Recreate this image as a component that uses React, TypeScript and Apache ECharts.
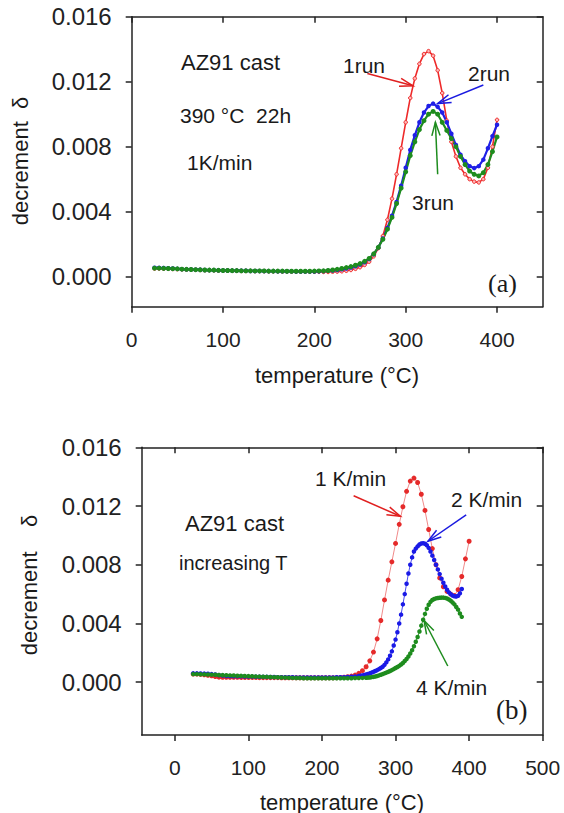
import React, { useEffect, useRef } from "react";
import * as echarts from "echarts";

// ---------- Panel (a): AZ91 cast, 390 °C 22h, 1 K/min, three runs ----------
const tempA = [
  25, 30, 35, 40, 45, 50, 55, 60, 65, 70, 75, 80, 85, 90, 95, 100, 105, 110, 115, 120,
  125, 130, 135, 140, 145, 150, 155, 160, 165, 170, 175, 180, 185, 190, 195, 200, 205, 210, 215, 220,
  225, 230, 235, 240, 245, 250, 255, 260, 265, 270, 275, 280, 285, 290, 295, 300, 305, 310, 315, 320,
  325, 330, 335, 340, 345, 350, 355, 360, 365, 370, 375, 380, 385, 390, 395, 400,
];
const run1 = [
  0.0005, 0.0005, 0.00049, 0.00048, 0.00047, 0.00046, 0.00045, 0.00044, 0.00043, 0.00042, 0.00041, 0.0004, 0.0004, 0.00039, 0.00038, 0.00037, 0.00037, 0.00036, 0.00036, 0.00035,
  0.00035, 0.00035, 0.00034, 0.00034, 0.00034, 0.00033, 0.00033, 0.00033, 0.00032, 0.00032, 0.00032, 0.00031, 0.00031, 0.00031, 0.0003, 0.0003, 0.0003, 0.00029, 0.00029, 0.0003,
  0.00031, 0.00033, 0.00036, 0.00041, 0.00048, 0.00058, 0.00072, 0.00092, 0.00125, 0.00175, 0.0025, 0.0035, 0.0048, 0.0063, 0.0079, 0.0095, 0.011, 0.0122, 0.0131, 0.0137,
  0.01388, 0.0136, 0.0127, 0.0113, 0.0096, 0.0083, 0.0074, 0.0067, 0.0063, 0.006, 0.00585, 0.0058, 0.006, 0.0067, 0.008, 0.00965,
];
const run2 = [
  0.00055, 0.00054, 0.00053, 0.00052, 0.0005, 0.00048, 0.00046, 0.00045, 0.00044, 0.00043, 0.00042, 0.00041, 0.0004, 0.0004, 0.00039, 0.00038, 0.00038, 0.00037, 0.00037, 0.00036,
  0.00036, 0.00035, 0.00035, 0.00035, 0.00034, 0.00034, 0.00034, 0.00033, 0.00033, 0.00033, 0.00033, 0.00032, 0.00032, 0.00032, 0.00032, 0.00032, 0.00033, 0.00034, 0.00036, 0.00038,
  0.00041, 0.00045, 0.0005, 0.00056, 0.00064, 0.00074, 0.00088, 0.00108, 0.00138, 0.0018, 0.00235, 0.003, 0.00375, 0.0046, 0.0056, 0.0067, 0.0078, 0.0087, 0.0095, 0.0101,
  0.0105, 0.01065, 0.01045, 0.0101, 0.0095, 0.0088, 0.0081, 0.0075, 0.0071, 0.0068, 0.00668, 0.0068, 0.0072, 0.0079, 0.00865, 0.00935,
];
const run3 = [
  0.00052, 0.00052, 0.00051, 0.0005, 0.00049, 0.00048, 0.00046, 0.00045, 0.00044, 0.00043, 0.00042, 0.00041, 0.0004, 0.0004, 0.00039, 0.00038, 0.00038, 0.00037, 0.00037, 0.00036,
  0.00036, 0.00036, 0.00035, 0.00035, 0.00035, 0.00034, 0.00034, 0.00034, 0.00034, 0.00033, 0.00033, 0.00033, 0.00033, 0.00033, 0.00033, 0.00034, 0.00035, 0.00036, 0.00038, 0.00041,
  0.00045, 0.0005, 0.00056, 0.00062, 0.0007, 0.0008, 0.00094, 0.00112, 0.0014, 0.0018, 0.0023, 0.00292, 0.00365, 0.0045, 0.00545, 0.00645, 0.00745, 0.0083, 0.00905, 0.0096,
  0.01, 0.01017, 0.01, 0.0095, 0.009, 0.0085, 0.008, 0.0074, 0.0069, 0.0065, 0.0063, 0.0062, 0.0064, 0.0069, 0.0077, 0.0086,
];

// ---------- Panel (b): AZ91 cast, increasing T, three heating rates ----------
const tempB1 = [
  25, 30, 35, 40, 45, 50, 55, 60, 65, 70, 75, 80, 85, 90, 95, 100, 105, 110, 115, 120,
  125, 130, 135, 140, 145, 150, 155, 160, 165, 170, 175, 180, 185, 190, 195, 200, 205, 210, 215, 220,
  225, 230, 235, 240, 245, 250, 255, 260, 265, 270, 275, 280, 285, 290, 295, 300, 305, 310, 315, 320,
  325, 330, 335, 340, 345, 350, 355, 360, 365, 370, 375, 380, 385, 390, 395, 400,
];
const rate1 = [
  0.00055, 0.00055, 0.00053, 0.0005, 0.00047, 0.00043, 0.00038, 0.00034, 0.00033, 0.00033, 0.00033, 0.00033, 0.00033, 0.00032, 0.00032, 0.00032, 0.00032, 0.00032, 0.00031, 0.00031,
  0.00031, 0.00031, 0.00031, 0.00031, 0.0003, 0.0003, 0.0003, 0.0003, 0.0003, 0.0003, 0.0003, 0.0003, 0.0003, 0.0003, 0.0003, 0.0003, 0.0003, 0.0003, 0.0003, 0.00031,
  0.00032, 0.00034, 0.00037, 0.00041, 0.00048, 0.0006, 0.00078, 0.00105, 0.00145, 0.00205, 0.00295, 0.0042, 0.0056, 0.00695, 0.0082, 0.00945, 0.01075, 0.01195, 0.013, 0.0137,
  0.0139, 0.0136, 0.0128, 0.0117, 0.0104, 0.0091, 0.008, 0.0071, 0.0065, 0.00618, 0.006, 0.0059, 0.0063, 0.0072, 0.0084, 0.0096,
];
const tempB2 = [
  25, 30, 35, 40, 45, 50, 55, 60, 65, 70, 75, 80, 85, 90, 95, 100, 105, 110, 115, 120,
  125, 130, 135, 140, 145, 150, 155, 160, 165, 170, 175, 180, 185, 190, 195, 200, 205, 210, 215, 220,
  225, 230, 235, 240, 245, 250, 252.5, 255, 257.5, 260, 262.5, 265, 267.5, 270, 272.5, 275, 277.5, 280, 282.5, 285,
  287.5, 290, 292.5, 295, 297.5, 300, 302.5, 305, 307.5, 310, 312.5, 315, 317.5, 320, 322.5, 325, 327.5, 330, 332.5, 335,
  337.5, 340, 342.5, 345, 347.5, 350, 352.5, 355, 357.5, 360, 362.5, 365, 367.5, 370, 372.5, 375, 377.5, 380, 382.5, 385,
  387.5, 390,
];
const rate2 = [
  0.0006, 0.0006, 0.00059, 0.00058, 0.00057, 0.00055, 0.00052, 0.00048, 0.00045, 0.00042, 0.00041, 0.0004, 0.0004, 0.0004, 0.00039, 0.00038, 0.00038, 0.00037, 0.00037, 0.00036,
  0.00036, 0.00035, 0.00035, 0.00034, 0.00034, 0.00033, 0.00033, 0.00033, 0.00032, 0.00032, 0.00032, 0.00032, 0.00032, 0.00032, 0.00032, 0.00032, 0.00032, 0.00032, 0.00032, 0.00033,
  0.00033, 0.00034, 0.00035, 0.00037, 0.00039, 0.00042, 0.00044, 0.00046, 0.00049, 0.00052, 0.00056, 0.0006, 0.00065, 0.0007, 0.00076, 0.00082, 0.00089, 0.00096, 0.00105, 0.00118,
  0.00135, 0.00155, 0.0018, 0.0021, 0.0025, 0.0029, 0.0034, 0.004, 0.0046, 0.0053, 0.006, 0.0067, 0.0074, 0.008, 0.0085, 0.0089, 0.0091, 0.00925, 0.00938, 0.00945,
  0.00947, 0.00943, 0.00933, 0.00915, 0.0089, 0.00862, 0.00832, 0.008, 0.00768, 0.00736, 0.00705, 0.00677, 0.00652, 0.0063, 0.00612, 0.006, 0.0059, 0.00585, 0.00584, 0.00588,
  0.00605, 0.00635,
];
const tempB4 = [
  25, 30, 35, 40, 45, 50, 55, 60, 65, 70, 75, 80, 85, 90, 95, 100, 105, 110, 115, 120,
  125, 130, 135, 140, 145, 150, 155, 160, 165, 170, 175, 180, 185, 190, 195, 200, 205, 210, 215, 220,
  225, 230, 235, 240, 245, 250, 255, 260, 262.5, 265, 267.5, 270, 272.5, 275, 277.5, 280, 282.5, 285, 287.5, 290,
  292.5, 295, 297.5, 300, 302.5, 305, 307.5, 310, 312.5, 315, 317.5, 320, 322.5, 325, 327.5, 330, 332.5, 335, 337.5, 340,
  342.5, 345, 347.5, 350, 352.5, 355, 357.5, 360, 362.5, 365, 367.5, 370, 372.5, 375, 377.5, 380, 382.5, 385, 387.5, 390,
];
const rate4 = [
  0.00055, 0.00055, 0.00054, 0.00053, 0.00052, 0.00051, 0.0005, 0.00049, 0.00048, 0.00047, 0.00046, 0.00045, 0.00044, 0.00043, 0.00042, 0.00041, 0.0004, 0.00039, 0.00038, 0.00037,
  0.00036, 0.00035, 0.00034, 0.00033, 0.00032, 0.00031, 0.0003, 0.00029, 0.00028, 0.00028, 0.00027, 0.00027, 0.00027, 0.00027, 0.00027, 0.00027, 0.00027, 0.00027, 0.00027, 0.00027,
  0.00027, 0.00027, 0.00027, 0.00027, 0.00028, 0.00028, 0.00029, 0.0003, 0.00031, 0.00032, 0.00034, 0.00036, 0.00039, 0.00042, 0.00046, 0.0005, 0.00055, 0.0006, 0.00065, 0.0007,
  0.00076, 0.00082, 0.00089, 0.00096, 0.00103, 0.00111, 0.0012, 0.00131, 0.00144, 0.00158, 0.00175, 0.00195, 0.00218, 0.00245, 0.00275, 0.00308, 0.00345, 0.00385, 0.00425, 0.00465,
  0.005, 0.00527, 0.00547, 0.0056, 0.00567, 0.00571, 0.00573, 0.00575, 0.00576, 0.00576, 0.00574, 0.0057, 0.00563, 0.00555, 0.00543, 0.0053, 0.00512, 0.00494, 0.00468, 0.00445,
];

// ---------- Tick labels ----------
const xTicksA = [0, 100, 200, 300, 400];
const xTicksB = [0, 100, 200, 300, 400, 500];
const yTicks = [0, 0.004, 0.008, 0.012, 0.016];

// ---------- Annotation arrows (data coordinates: from -> to) ----------
const arrowsA = [
  { from: [258, 0.0125], to: [308, 0.01175], color: "#e02020" },
  { from: [385, 0.0118], to: [335, 0.01065], color: "#1a1ae0" },
  { from: [335, 0.0063], to: [332.5, 0.0095], color: "#1e8c1e" },
];
const arrowsB = [
  { from: [243, 0.0127], to: [306.5, 0.0113], color: "#e02020" },
  { from: [396, 0.0114], to: [344, 0.0096], color: "#1a1ae0" },
  { from: [371, 0.0011], to: [338.7, 0.0042], color: "#1e8c1e" },
];

const FONT = "Liberation Sans";
const AXIS_COLOR = "#222";

const pairs = (xs: number[], ys: number[]) => xs.map((x, i) => [x, ys[i]]);

function arrowRenderer(list: { color: string }[]) {
  return (params: any, api: any) => {
    const p1 = api.coord([api.value(0), api.value(1)]);
    const p2 = api.coord([api.value(2), api.value(3)]);
    const ang = Math.atan2(p2[1] - p1[1], p2[0] - p1[0]);
    const L = 14;
    const a = 0.3;
    const h1 = [p2[0] - L * Math.cos(ang - a), p2[1] - L * Math.sin(ang - a)];
    const h2 = [p2[0] - L * Math.cos(ang + a), p2[1] - L * Math.sin(ang + a)];
    const color = list[params.dataIndex].color;
    return {
      type: "group",
      children: [
        { type: "line", shape: { x1: p1[0], y1: p1[1], x2: p2[0], y2: p2[1] }, style: { stroke: color, lineWidth: 1.5 } },
        { type: "polyline", shape: { points: [h1, p2, h2] }, style: { stroke: color, fill: "none", lineWidth: 1.5 } },
      ],
    };
  };
}

function xAxes(grid: number, min: number, max: number, ticks: number[]) {
  const line = { show: true, onZero: false, lineStyle: { color: AXIS_COLOR, width: 1.5 } };
  return [
    {
      type: "value", gridIndex: grid, position: "bottom", min, max,
      axisLine: line,
      axisTick: { show: true, inside: false, length: 6, customValues: ticks, lineStyle: { color: AXIS_COLOR, width: 1.5 } },
      axisLabel: { customValues: ticks, fontSize: 21, fontFamily: FONT, color: "#222", margin: 22 },
      splitLine: { show: false },
    },
    {
      type: "value", gridIndex: grid, position: "top", min, max,
      axisLine: line,
      axisTick: { show: true, inside: true, length: 6, customValues: ticks, lineStyle: { color: AXIS_COLOR, width: 1.5 } },
      axisLabel: { show: false },
      splitLine: { show: false },
    },
  ];
}

function yAxes(grid: number, min: number) {
  const line = { show: true, onZero: false, lineStyle: { color: AXIS_COLOR, width: 1.5 } };
  return [
    {
      type: "value", gridIndex: grid, position: "left", min, max: 0.016,
      axisLine: line,
      axisTick: { show: true, inside: false, length: 6, customValues: yTicks, lineStyle: { color: AXIS_COLOR, width: 1.5 } },
      axisLabel: { customValues: yTicks, fontSize: 24, fontFamily: FONT, color: "#222", margin: 20, formatter: (v: number) => v.toFixed(3) },
      splitLine: { show: false },
    },
    {
      type: "value", gridIndex: grid, position: "right", min, max: 0.016,
      axisLine: line,
      axisTick: { show: true, inside: true, length: 6, customValues: yTicks, lineStyle: { color: AXIS_COLOR, width: 1.5 } },
      axisLabel: { show: false },
      splitLine: { show: false },
    },
  ];
}

function txt(x: number, y: number, text: string, fontSize: number, family = FONT, extra: any = {}) {
  return {
    type: "text", x, y, z: 100,
    style: { text, fontSize, fontFamily: family, fill: "#1a1a1a", align: "left", verticalAlign: "middle", ...extra },
  };
}

export default function App() {
  const ref = useRef<HTMLDivElement>(null);
  useEffect(() => {
    if (!ref.current) return;
    const chart = echarts.init(ref.current, null, { renderer: "svg" });
    const option: any = {
      animation: false,
      backgroundColor: "#fff",
      textStyle: { fontFamily: FONT },
      grid: [
        { left: 131.7, top: 16.7, width: 411, height: 290 },
        { left: 141.7, top: 447.3, width: 401, height: 287.7 },
      ],
      xAxis: [...xAxes(0, 0, 450, xTicksA), ...xAxes(1, -45, 500, xTicksB)],
      yAxis: [...yAxes(0, -0.00185), ...yAxes(1, -0.0036)],
      series: [
        {
          name: "1run", type: "line", xAxisIndex: 0, yAxisIndex: 0, data: pairs(tempA, run1),
          symbol: "circle", symbolSize: 3.5, showSymbol: true,
          lineStyle: { color: "#ee2a2a", width: 1.6 }, itemStyle: { color: "#ffb8b8", borderColor: "#ee2a2a", borderWidth: 1 },
        },
        {
          name: "2run", type: "line", xAxisIndex: 0, yAxisIndex: 0, data: pairs(tempA, run2),
          symbol: "circle", symbolSize: 4.5, showSymbol: true,
          lineStyle: { color: "#1f1fe6", width: 2.2 }, itemStyle: { color: "#1f1fe6" },
        },
        {
          name: "3run", type: "line", xAxisIndex: 0, yAxisIndex: 0, data: pairs(tempA, run3),
          symbol: "circle", symbolSize: 5, showSymbol: true,
          lineStyle: { color: "#1e8c1e", width: 2.2 }, itemStyle: { color: "#1e8c1e" },
        },
        {
          name: "1 K/min", type: "line", xAxisIndex: 2, yAxisIndex: 2, data: pairs(tempB1, rate1),
          symbol: "circle", symbolSize: 5, showSymbol: true,
          lineStyle: { color: "#f08a8a", width: 1 }, itemStyle: { color: "#e52a2a" },
        },
        {
          name: "2 K/min", type: "line", xAxisIndex: 2, yAxisIndex: 2, data: pairs(tempB2, rate2),
          symbol: "circle", symbolSize: 4.5, showSymbol: true,
          lineStyle: { color: "#4a4af0", width: 1 }, itemStyle: { color: "#1a1ae6" },
        },
        {
          name: "4 K/min", type: "line", xAxisIndex: 2, yAxisIndex: 2, data: pairs(tempB4, rate4),
          symbol: "circle", symbolSize: 4.5, showSymbol: true,
          lineStyle: { color: "#3a9a3a", width: 1 }, itemStyle: { color: "#1e8c1e" },
        },
        {
          type: "custom", xAxisIndex: 0, yAxisIndex: 0, coordinateSystem: "cartesian2d", silent: true, clip: false, z: 20,
          encode: { x: [0, 2], y: [1, 3] },
          data: arrowsA.map((a) => [...a.from, ...a.to]),
          renderItem: arrowRenderer(arrowsA),
        },
        {
          type: "custom", xAxisIndex: 2, yAxisIndex: 2, coordinateSystem: "cartesian2d", silent: true, clip: false, z: 20,
          encode: { x: [0, 2], y: [1, 3] },
          data: arrowsB.map((a) => [...a.from, ...a.to]),
          renderItem: arrowRenderer(arrowsB),
        },
      ],
      graphic: [
        // panel (a)
        txt(181, 62, "AZ91 cast", 22),
        txt(180, 115, "390 °C  22h", 21),
        txt(187, 162, "1K/min", 21),
        txt(343, 65, "1run", 21),
        txt(468, 73, "2run", 21),
        txt(412, 202, "3run", 21),
        txt(488, 283, "(a)", 26, "Liberation Serif"),
        txt(337, 375, "temperature (°C)", 22, FONT, { align: "center" }),
        { type: "text", x: 20, y: 161, rotation: Math.PI / 2, z: 100,
          style: { text: "decrement  δ", fontSize: 22, fontFamily: FONT, fill: "#1a1a1a", align: "center", verticalAlign: "middle" } },
        // panel (b)
        txt(315, 478, "1 K/min", 21),
        txt(451, 499, "2 K/min", 21),
        txt(185, 523, "AZ91 cast", 22),
        txt(179, 563, "increasing T", 20),
        txt(416, 687, "4 K/min", 21),
        txt(496, 710, "(b)", 27, "Liberation Serif"),
        txt(342, 802, "temperature (°C)", 22, FONT, { align: "center" }),
        { type: "text", x: 29, y: 585, rotation: Math.PI / 2, z: 100,
          style: { text: "decrement    δ", fontSize: 22, fontFamily: FONT, fill: "#1a1a1a", align: "center", verticalAlign: "middle" } },
      ],
    };
    chart.setOption(option);
    return () => chart.dispose();
  }, []);
  return (
    <div
      ref={ref}
      style={{ position: "fixed", left: 0, top: 0, width: 564, height: 813, background: "#fff" }}
    />
  );
}
